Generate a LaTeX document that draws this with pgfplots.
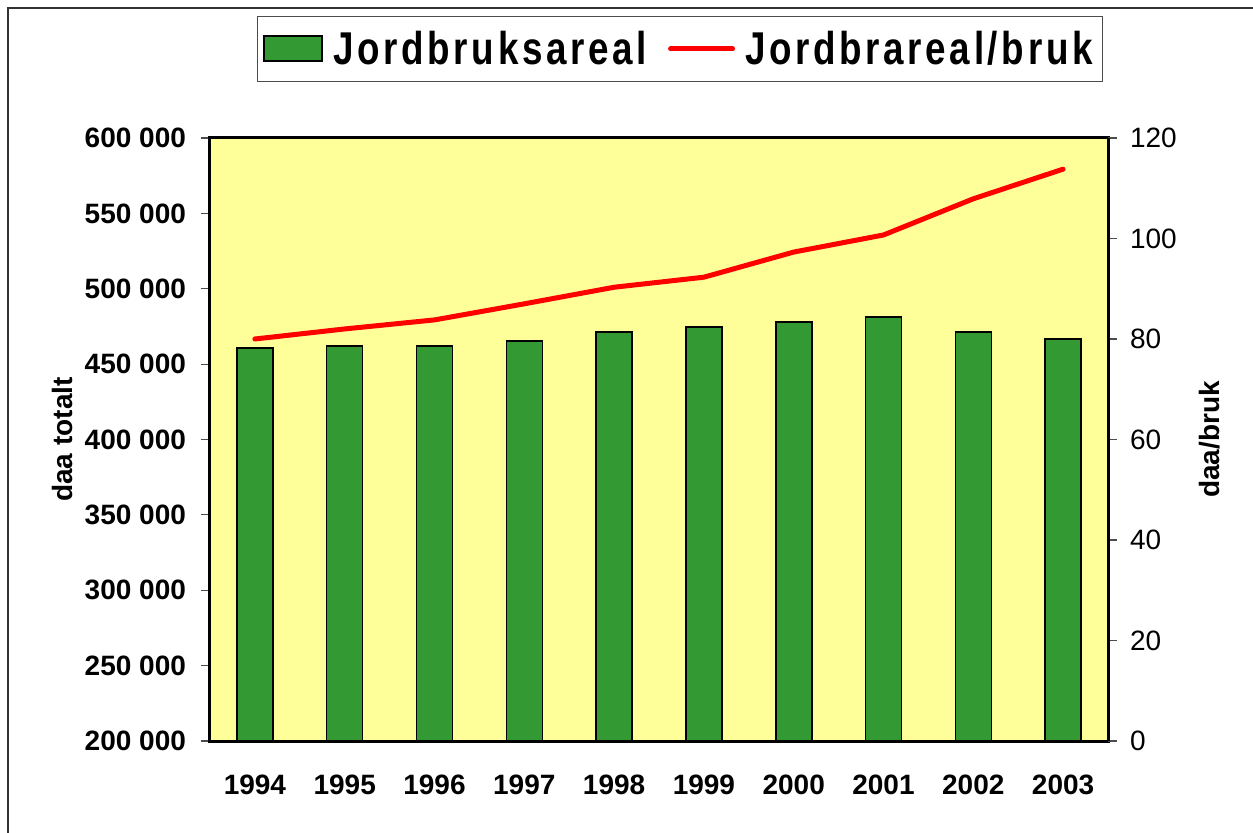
\documentclass[border=0pt]{standalone}
\usepackage{fontspec}
\setmainfont{Liberation Sans}
\newfontfamily\legfont[LetterSpace=8,FakeStretch=0.80]{Liberation Sans}
\usepackage{pgfplots}
\pgfplotsset{compat=1.18}
\definecolor{barg}{HTML}{339933}
\definecolor{bgy}{HTML}{FFFF99}
\begin{document}
\begin{tikzpicture}
\useasboundingbox (-105bp,-46bp) rectangle (521.5bp,370.5bp);
\draw[line width=0.6bp, black!80] (-101bp,-80bp) -- (-101bp,366.5bp) -- (560bp,366.5bp);
\begin{axis}[
  at={(0,0)}, anchor=south west,
  scale only axis, width=449bp, height=301.5bp,
  xmin=-0.5, xmax=9.5, ymin=200000, ymax=600000,
  scaled y ticks=false,
  axis background/.style={fill=bgy},
  axis line style={line width=1.5bp, black},
  /pgf/number format/assume math mode=true,
  xtick={0,...,9},
  xticklabels={1994,1995,1996,1997,1998,1999,2000,2001,2002,2003},
  x tick style={draw=none},
  xtick pos=bottom, ytick pos=left,
  extra x ticks={-0.5,0.5,1.5,2.5,3.5,4.5,5.5,6.5,7.5,8.5,9.5},
  extra x tick labels={},
  extra x tick style={tick align=center, major tick length=10bp, tick style={draw=black!70, line width=0.6bp}},
  ytick={200000,250000,300000,350000,400000,450000,500000,550000,600000},
  yticklabels={200 000,250 000,300 000,350 000,400 000,450 000,500 000,550 000,600 000},
  y tick style={draw=black!70, line width=0.6bp},
  tick align=outside, major tick length=4.5bp,
  ticklabel style={font=\bfseries\fontsize{14bp}{16bp}\selectfont},
  xticklabel style={yshift=-9bp},
  yticklabel style={xshift=-4bp},
  ylabel={daa totalt},
  ylabel style={font=\bfseries\fontsize{14bp}{16bp}\selectfont, at={(rel axis cs:-0.1648,0.5)}, anchor=center, rotate=0},
  legend style={at={(0.5234,1.1476)}, anchor=center, draw=black!70, line width=0.6bp,
    font=\legfont\bfseries\fontsize{23bp}{27bp}\selectfont,
    inner xsep=3bp, inner ysep=5bp,
    /tikz/every odd column/.append style={column sep=3bp},
    /tikz/every even column/.append style={column sep=8.5bp}},
  legend columns=2,
]
\addplot[ybar, bar width=18bp, fill=barg, draw=black, line width=0.8bp,
  legend image code/.code={\draw[fill=barg, draw=black, line width=1bp] (0bp,-6.25bp) rectangle (29bp,6.25bp);}]
  coordinates {(0,460700) (1,462100) (2,462100) (3,465400) (4,471300) (5,474700) (6,478000) (7,481300) (8,471300) (9,466700)};
\addlegendentry{Jordbruksareal}
\addlegendimage{red, line width=2.5bp, line cap=round, legend image code/.code={\draw[red, line width=2.5bp, line cap=round] (0bp,0bp) -- (31bp,0bp);}}
\addlegendentry{Jordbrareal/bruk}
\end{axis}
\begin{axis}[
  at={(0,0)}, anchor=south west,
  scale only axis, width=449bp, height=301.5bp,
  xmin=-0.5, xmax=9.5, ymin=0, ymax=120,
  axis x line=none, axis y line*=right,
  axis line style={line width=1.5bp, black, -},
  /pgf/number format/assume math mode=true,
  ytick={0,20,40,60,80,100,120},
  y tick style={draw=black!70, line width=0.6bp},
  tick align=outside, major tick length=4.5bp,
  ticklabel style={font=\fontsize{14bp}{16bp}\selectfont},
  yticklabel style={xshift=3bp},
  ylabel={daa/bruk},
  ylabel style={font=\bfseries\fontsize{14bp}{16bp}\selectfont, at={(rel axis cs:1.1136,0.5)}, anchor=center, rotate=0},
]
\addplot[red, line width=2.5bp, line cap=round, line join=round]
  coordinates {(0,80.0) (1,82.0) (2,83.8) (3,87.0) (4,90.3) (5,92.3) (6,97.3) (7,100.7) (8,107.9) (9,113.8)};
\end{axis}
\end{tikzpicture}
\end{document}
